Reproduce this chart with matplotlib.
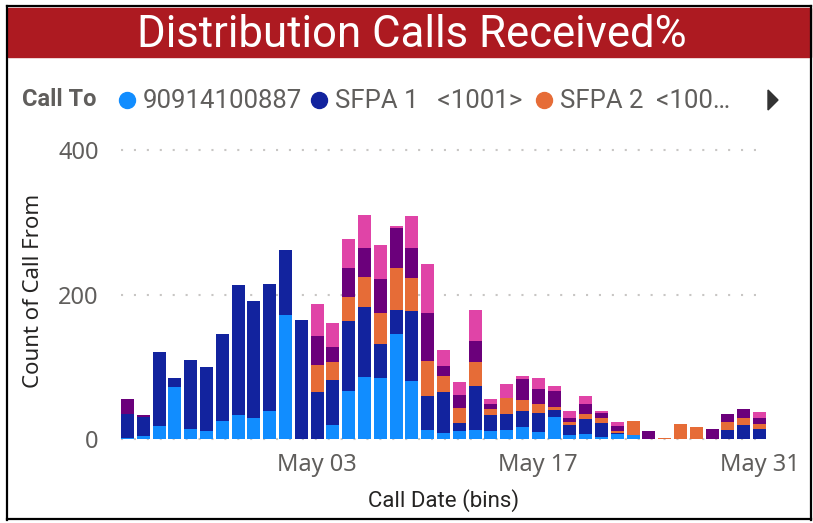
import numpy as np
import matplotlib
matplotlib.use('Agg')
import matplotlib.pyplot as plt
import matplotlib.dates as mdates
from matplotlib.patches import Rectangle, Polygon
from matplotlib.lines import Line2D

# 数据: 每天的呼叫数 (Apr 21 - May 31)
dates = np.arange(np.datetime64('2024-04-21'), np.datetime64('2024-06-01'))
series_names = ['90914100887', 'SFPA 1   <1001>', 'SFPA 2  <100…', 'Other 1', 'Other 2']
series_colors = ['#118DFF', '#12239E', '#E66C37', '#6B007B', '#E044A7']

light_blue = [2, 4, 18, 72, 14, 11, 25, 33, 29, 39, 171, 0, 0, 19, 66, 86, 84, 146, 80, 12, 8,
              11, 12, 11, 12, 17, 10, 30, 6, 7, 3, 7, 6, 0, 0, 0, 0, 0, 0, 0, 0]
dark_blue = [33, 26, 102, 12, 96, 89, 120, 180, 162, 175, 90, 165, 65, 62, 98, 97, 47, 33, 97, 48, 57,
             11, 61, 22, 23, 22, 26, 10, 14, 20, 19, 1, 0, 0, 0, 0, 0, 0, 12, 19, 14]
orange = [0, 0, 0, 0, 0, 0, 0, 0, 0, 0, 0, 0, 37, 25, 33, 41, 43, 58, 46, 48, 22,
          21, 33, 8, 22, 15, 12, 4, 3, 8, 7, 3, 19, 0, 1, 21, 17, 0, 12, 10, 7]
purple = [20, 3, 0, 0, 0, 0, 0, 0, 0, 0, 0, 0, 41, 22, 39, 40, 48, 55, 41, 66, 14,
          18, 30, 7, 0, 29, 21, 22, 6, 14, 7, 7, 0, 11, 0, 0, 0, 14, 10, 12, 8]
pink = [0, 0, 0, 0, 0, 0, 0, 0, 0, 0, 0, 0, 44, 33, 41, 46, 47, 3, 44, 68, 22,
        18, 43, 8, 19, 4, 15, 8, 10, 11, 3, 6, 0, 0, 0, 0, 0, 0, 0, 0, 8]

y_ticks = [0, 200, 400]
x_ticks = ['2024-05-03', '2024-05-17', '2024-05-31']

ui_font = 'Noto Sans'

W, H = 813, 523


def fx(x):
    return x / W


def fy(y):
    return 1 - y / H


fig = plt.figure(figsize=(8.13, 5.23), dpi=100)

# 标题栏
fig.patches.append(Rectangle((fx(8), fy(57)), fx(811) - fx(8), fy(8) - fy(57),
                             transform=fig.transFigure, color='#AD1A21', zorder=0))
fig.text(fx(412), fy(35), 'Distribution Calls Received%', color='white', fontsize=31.5,
         family='Roboto', ha='center', va='center')

# 边框
for xs, ys in [([7, 7], [6, 520]), ([811, 811], [6, 520]), ([7, 811], [519, 519]), ([7, 811], [6, 6])]:
    fig.add_artist(Line2D([fx(v) for v in xs], [fy(v) for v in ys], color='black', lw=1.6))

# 图例
fig.text(fx(22), fy(100), 'Call To', color='#605E5C', fontsize=17, family='Roboto',
         fontweight='bold', ha='left', va='center')
legend_pos = [(127, 143), (319, 335), (544, 560)]
for (mx, tx), name, col in zip(legend_pos, series_names[:3], series_colors[:3]):
    fig.add_artist(Line2D([fx(mx)], [fy(100)], marker='o', markersize=11.5, color=col, lw=0))
    fig.text(fx(tx), fy(101), name, color='#605E5C', fontsize=18.5, family='Roboto',
             ha='left', va='center')
fig.patches.append(Polygon([(fx(768), fy(90)), (fx(768), fy(110)), (fx(778), fy(100))],
                           closed=True, transform=fig.transFigure, color='#333333'))

# 坐标轴
ymax = 410
ax = fig.add_axes([fx(121), fy(439), fx(766) - fx(121), ymax * 0.7225 / H])
x = mdates.date2num(dates.astype('datetime64[D]').astype(object))
bottom = np.zeros(len(dates))
for vals, col in zip([light_blue, dark_blue, orange, purple, pink], series_colors):
    ax.bar(x, vals, width=0.82, bottom=bottom, color=col, zorder=2)
    bottom += np.array(vals)

ax.set_xlim(x[0] - 0.41, x[-1] + 0.41)
ax.set_ylim(0, ymax)
ax.set_yticks(y_ticks)
ax.set_yticklabels([str(v) for v in y_ticks])
ax.set_xticks(mdates.date2num(np.array(x_ticks, dtype='datetime64[D]').astype(object)))
ax.xaxis.set_major_formatter(mdates.DateFormatter('%b %d'))
ax.tick_params(length=0, labelsize=17, labelcolor='#605E5C')
for lab in ax.get_xticklabels() + ax.get_yticklabels():
    lab.set_family(ui_font)
ax.tick_params(axis='x', pad=10)
ax.tick_params(axis='y', pad=16)
for v in y_ticks:
    ax.axhline(v, color='#C8C6C4', lw=1.5, ls=(0, (1, 5.2)), zorder=1, clip_on=False)
for s in ax.spines.values():
    s.set_visible(False)

ax.set_ylabel('Count of Call From', fontsize=16, family=ui_font, color='#252423', labelpad=10)
ax.set_xlabel('Call Date (bins)', fontsize=16, family='Roboto', color='#252423', labelpad=9)

fig.savefig('out.png', dpi=100)
